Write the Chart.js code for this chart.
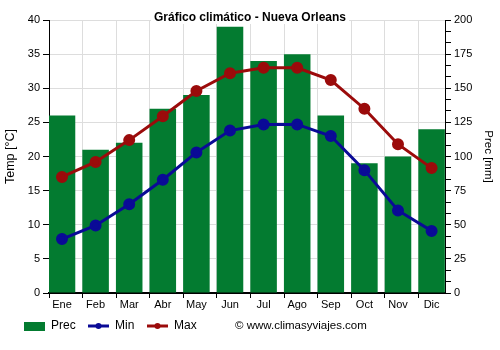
<!DOCTYPE html>
<html><head><meta charset="utf-8">
<script src="https://cdn.jsdelivr.net/npm/chart.js@4"></script>
<style>
html,body{margin:0;padding:0;background:#fff;}
#wrap{position:relative;width:500px;height:350px;}
#copy{position:absolute;left:235px;top:319px;font:11.5px "Liberation Sans",Arial,sans-serif;color:#000;white-space:nowrap;}
</style></head>
<body><div id="wrap"><canvas id="c" width="500" height="350"></canvas><div id="copy">© www.climasyviajes.com</div></div>
<script>
const months = ["Ene","Feb","Mar","Abr","May","Jun","Jul","Ago","Sep","Oct","Nov","Dic"];
const prec = [130,105,110,135,145,195,170,175,130,95,100,120];
const tMin = [7.9,9.9,13.0,16.6,20.6,23.8,24.7,24.7,23.0,18.0,12.1,9.1];
const tMax = [17.0,19.2,22.4,25.9,29.6,32.2,33.0,33.0,31.2,27.0,21.8,18.3];
const tempTicks = [0,5,10,15,20,25,30,35,40];
const precTicks = [0,25,50,75,100,125,150,175,200];

const FONT = '"Liberation Sans", Arial, sans-serif';
const GREEN = '#037b30', BLUE = '#0a0a96', RED = '#9b0b0b';
const LEFT_GAP = 0.387;
const RIGHT_GAP = 0.399;

const xy = arr => arr.map((v, i) => ({ x: i, y: v }));

const overlay = {
  id: 'overlay',
  afterDraw(chart) {
    const ctx = chart.ctx;
    ctx.save();
    ctx.font = 'bold 12px ' + FONT;
    const t = 'Gráfico climático - Nueva Orleans';
    const w = ctx.measureText(t).width;
    const cx = 250;
    ctx.fillStyle = '#fff';
    ctx.fillRect(cx - w/2 - 3, 11, w + 6, 13);
    ctx.fillStyle = '#000';
    ctx.textAlign = 'center';
    ctx.textBaseline = 'middle';
    ctx.fillText(t, cx, 18);
    const y = 326;
    ctx.textAlign = 'left';
    ctx.font = '12px ' + FONT;
    ctx.fillStyle = GREEN;
    ctx.fillRect(24, 322, 21, 9);
    ctx.fillStyle = '#000';
    ctx.fillText('Prec', 51, y);
    const items = [[88, BLUE, 'Min', 115], [147, RED, 'Max', 174]];
    for (const [x0, col, lab, tx] of items) {
      ctx.strokeStyle = col; ctx.lineWidth = 3;
      ctx.beginPath(); ctx.moveTo(x0, y); ctx.lineTo(x0 + 21, y); ctx.stroke();
      ctx.fillStyle = col;
      ctx.beginPath(); ctx.arc(x0 + 10.5, y, 3, 0, Math.PI*2); ctx.fill();
      ctx.fillStyle = '#000';
      ctx.fillText(lab, tx, y);
    }
    ctx.restore();
  }
};

const tickFont = { family: FONT, size: 11 };

new Chart(document.getElementById('c'), {
  data: {
    datasets: [
      { type: 'line', label: 'Max', data: xy(tMax), xAxisID: 'x', yAxisID: 'yT', borderColor: RED, backgroundColor: RED,
        borderWidth: 3, pointRadius: 4.5, pointHoverRadius: 4.5, tension: 0, order: 1 },
      { type: 'line', label: 'Min', data: xy(tMin), xAxisID: 'x', yAxisID: 'yT', borderColor: BLUE, backgroundColor: BLUE,
        borderWidth: 3, pointRadius: 4.5, pointHoverRadius: 4.5, tension: 0, order: 2 },
      { type: 'bar', label: 'Prec', data: xy(prec), xAxisID: 'x', yAxisID: 'yP', backgroundColor: GREEN,
        categoryPercentage: 1, barPercentage: 0.79, order: 3 }
    ]
  },
  options: {
    responsive: false,
    animation: false,
    devicePixelRatio: 1,
    layout: { padding: { top: 20, bottom: 35, left: 0, right: 0 } },
    plugins: { legend: { display: false }, title: { display: false }, tooltip: { enabled: false } },
    scales: {
      xg: {
        type: 'linear', position: 'bottom', weight: 0, offset: false,
        min: -LEFT_GAP, max: 11 + RIGHT_GAP,
        afterBuildTicks(s) { s.ticks = months.map((m, i) => ({ value: i - LEFT_GAP })); },
        grid: { color: '#dddddd', tickColor: '#000', tickLength: 5, offset: false },
        border: { color: '#000', width: 2 },
        ticks: { display: true, callback: () => '', font: tickFont, padding: 0 },
        afterFit(s) { s.height = 0; }
      },
      x: {
        type: 'linear', position: 'bottom', weight: 1, offset: false,
        min: -LEFT_GAP, max: 11 + RIGHT_GAP,
        afterBuildTicks(s) { s.ticks = months.map((m, i) => ({ value: i })); },
        grid: { display: false, drawTicks: false, offset: false },
        border: { display: false },
        ticks: { color: '#000', font: tickFont, padding: 5, maxRotation: 0, autoSkip: false,
          callback: (v) => months[Math.round(v)] },
        afterFit(s) { s.height = 22; }
      },
      yT: {
        position: 'left', min: 0, max: 40,
        afterBuildTicks(s) { s.ticks = tempTicks.map(v => ({ value: v })); },
        grid: { color: '#dddddd', tickColor: '#000', tickLength: 6 },
        border: { color: '#000', width: 1 },
        ticks: { color: '#000', font: tickFont, padding: 3 },
        title: { display: true, text: 'Temp [°C]', color: '#000', font: { family: FONT, size: 12.5 }, padding: { top: 3, bottom: 0 } },
        afterFit(s) { s.width = 49; }
      },
      yP: {
        position: 'right', min: 0, max: 200,
        afterBuildTicks(s) {
          const arr = [];
          for (let i = 0; i <= 24; i++) arr.push({ value: i * 200 / 24 });
          s.ticks = arr;
        },
        grid: { drawOnChartArea: false, color: '#000', tickColor: '#000', tickLength: 6 },
        border: { color: '#000', width: 1 },
        ticks: { color: '#000', font: tickFont, padding: 3, autoSkip: false,
          callback(v, i) { return i % 3 === 0 ? String(precTicks[i / 3]) : ''; } },
        title: { display: true, text: 'Prec [mm]', color: '#000', font: { family: FONT, size: 11.5 }, padding: { top: 5, bottom: 0 } },
        afterFit(s) { s.width = 55; }
      }
    }
  },
  plugins: [overlay]
});
</script>
</body></html>
